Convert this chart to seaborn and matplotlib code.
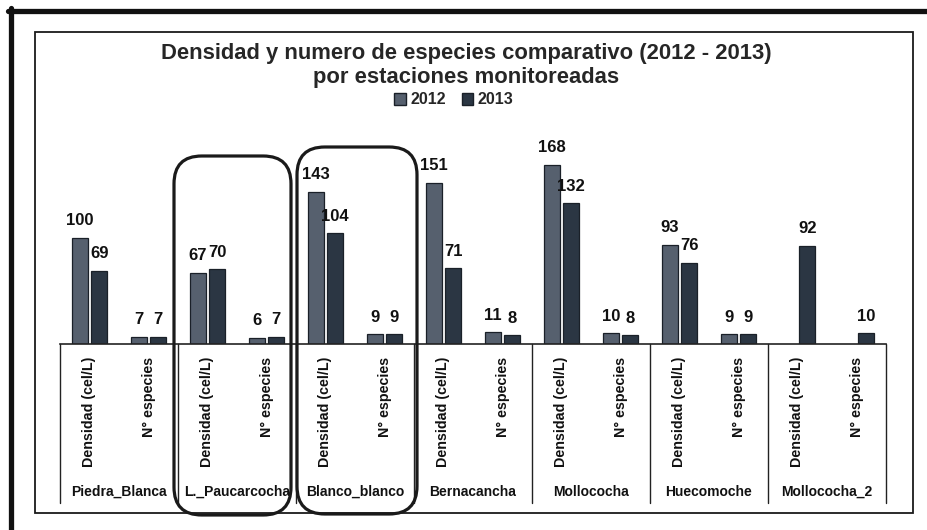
import numpy as np
import pandas as pd
import matplotlib
matplotlib.use("Agg")
import matplotlib.pyplot as plt
import seaborn as sns
from matplotlib.patches import FancyBboxPatch, Rectangle, Patch
from matplotlib.lines import Line2D
from matplotlib.transforms import blended_transform_factory

# ---- data ----
stations = ["Piedra_Blanca", "L._Paucarcocha", "Blanco_blanco", "Bernacancha",
            "Mollococha", "Huecomoche", "Mollococha_2"]
metrics = ["Densidad (cel/L)", "N° especies"]
years = ["2012", "2013"]
dens_2012 = [100, 67, 143, 151, 168, 93, np.nan]
dens_2013 = [69, 70, 104, 71, 132, 76, 92]
nesp_2012 = [7, 6, 9, 11, 10, 9, np.nan]
nesp_2013 = [7, 7, 9, 8, 8, 9, 10]
highlighted = ["L._Paucarcocha", "Blanco_blanco"]

rows = []
for i, st in enumerate(stations):
    for m, (v12, v13) in zip(metrics, [(dens_2012[i], dens_2013[i]), (nesp_2012[i], nesp_2013[i])]):
        cat = f"{st}|{m}"
        rows.append(dict(cat=cat, station=st, metric=m, year="2012", value=v12))
        rows.append(dict(cat=cat, station=st, metric=m, year="2013", value=v13))
df = pd.DataFrame(rows)
cats = list(dict.fromkeys(df["cat"]))

# ---- style ----
sns.set_style("white")
plt.rcParams["font.family"] = ["Liberation Sans Narrow", "Liberation Sans", "DejaVu Sans"]
plt.rcParams["font.weight"] = "bold"

W, H = 927, 530
fig = plt.figure(figsize=(W / 100, H / 100), dpi=100)

def fx(px):
    return px / W

def fy(py):
    return 1 - py / H

ax_left, ax_right, ax_bottom_px, ymax = 60, 886, 344, 180
px_per_unit = 1.065
ax_top_px = ax_bottom_px - ymax * px_per_unit
ax = fig.add_axes([fx(ax_left), fy(ax_bottom_px), fx(ax_right - ax_left),
                   (ax_bottom_px - ax_top_px) / H])

palette = {"2012": "#56606e", "2013": "#2b3643"}
sns.barplot(data=df, x="cat", y="value", hue="year", order=cats, hue_order=years,
            palette=palette, width=0.66, gap=0.18, edgecolor="#1a2028", linewidth=0.9,
            saturation=1, ax=ax, legend=False)

ax.set_xlim(-0.5, len(cats) - 0.5)
ax.set_ylim(0, ymax)
for s in ["top", "right", "left"]:
    ax.spines[s].set_visible(False)
ax.spines["bottom"].set_color("#222222")
ax.spines["bottom"].set_linewidth(1.2)
ax.set_yticks([])
ax.set_xticks([])
ax.set_xlabel("")
ax.set_ylabel("")
ax.patch.set_alpha(0)

# bar value labels
for p in ax.patches:
    h = p.get_height()
    if np.isfinite(h) and h > 0:
        ax.annotate(f"{int(round(h))}", (p.get_x() + p.get_width() / 2, h),
                    xytext=(0, 7), textcoords="offset points", ha="center", va="bottom",
                    fontsize=12, fontweight="bold", color="#111111")

# multi-level category labels
trans = blended_transform_factory(ax.transData, ax.transAxes)
hpx = ax_bottom_px - ax_top_px
def ay(py):
    return (ax_bottom_px - py) / hpx

for i, c in enumerate(cats):
    st, m = c.split("|")
    ax.text(i, ay(357), m, rotation=90, ha="center", va="top", fontsize=10.3,
            fontweight="bold", transform=trans, color="#111111")
for j, st in enumerate(stations):
    ax.text(2 * j + 0.5, ay(492), st, ha="center", va="center", fontsize=10,
            fontweight="bold", transform=trans, color="#111111")
for k in range(len(stations) + 1):
    xb = 2 * k - 0.5
    ax.plot([xb, xb], [0, ay(503)], color="#222222", lw=1.0, transform=trans,
            clip_on=False)

# title and legend
fig.text(fx(466), fy(53), "Densidad y numero de especies comparativo (2012 - 2013)",
         ha="center", va="center", fontsize=15.8, fontweight="bold")
fig.text(fx(466), fy(77), "por estaciones monitoreadas", ha="center", va="center",
         fontsize=15.8, fontweight="bold")
handles = [Patch(facecolor=palette[y], edgecolor="#1a2028", label=y) for y in years]
fig.legend(handles=handles, loc="center", bbox_to_anchor=(fx(454), fy(100)), ncol=2,
           frameon=False, handlelength=0.7, handleheight=0.7, handletextpad=0.3,
           columnspacing=1.0, prop=dict(weight="bold", size=11.5))

# highlight boxes
boxes = {"L._Paucarcocha": (174, 156, 291, 515), "Blanco_blanco": (297, 147, 417, 514)}
for st in highlighted:
    x0, y0, x1, y1 = boxes[st]
    fig.add_artist(FancyBboxPatch((fx(x0), fy(y1)), fx(x1 - x0), (y1 - y0) / H,
                                  boxstyle="round,pad=0,rounding_size=0.03",
                                  transform=fig.transFigure, fill=False,
                                  edgecolor="#1a1a1a", lw=2.3, mutation_aspect=W / H))

# frames
fig.add_artist(Rectangle((fx(35), fy(513)), fx(913 - 35), (513 - 32) / H,
                         transform=fig.transFigure, fill=False, edgecolor="#1a1a1a", lw=1.3))
fig.add_artist(Line2D([fx(8), 1], [fy(10.5), fy(10.5)], transform=fig.transFigure,
                      color="#111111", lw=3.8))
fig.add_artist(Line2D([fx(10.5), fx(10.5)], [fy(8), 0], transform=fig.transFigure,
                      color="#111111", lw=3.8))

fig.savefig("out.png", dpi=100)
